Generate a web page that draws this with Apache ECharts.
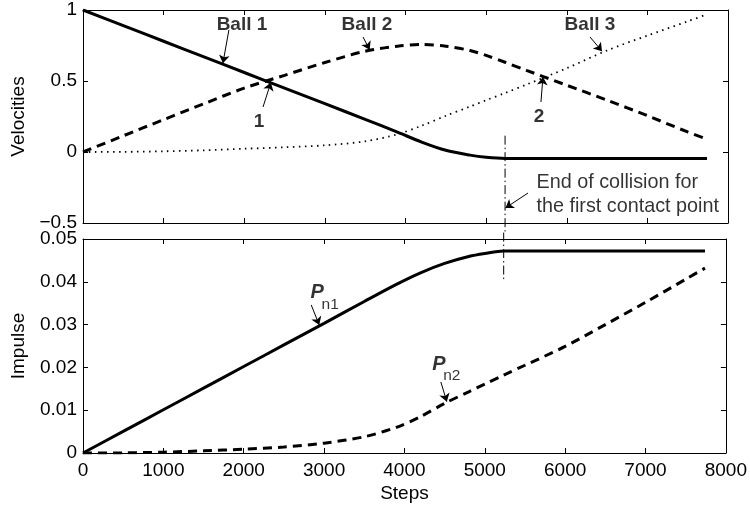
<!DOCTYPE html>
<html>
<head>
<meta charset="utf-8">
<script src="https://cdn.jsdelivr.net/npm/echarts@6/dist/echarts.min.js"></script>
<style>
  html, body { margin: 0; padding: 0; background: #fff; }
  #chart { width: 750px; height: 510px; }
</style>
</head>
<body>
<div id="chart"></div>
<script>
// Simulation steps shared by every curve
const steps = [0, 500, 1000, 1500, 2000, 2500, 3000, 3500, 3900, 4200, 4500, 4800, 5000, 5235, 5500, 6000, 6500, 7000, 7500, 7740];

// Ball velocities
const ball1 = [1, 0.89, 0.78, 0.67, 0.56, 0.45, 0.34, 0.23, 0.14, 0.07, 0.012, -0.022, -0.037, -0.045, -0.045, -0.045, -0.045, -0.045, -0.045, -0.045];
const ball2 = [0, 0.114, 0.228, 0.34, 0.45, 0.54, 0.63, 0.71, 0.745, 0.757, 0.745, 0.715, 0.68, 0.632, 0.575, 0.47, 0.365, 0.256, 0.141, 0.09];
const ball3 = [0, 0.001, 0.005, 0.012, 0.023, 0.033, 0.047, 0.075, 0.125, 0.185, 0.255, 0.32, 0.365, 0.415, 0.475, 0.59, 0.715, 0.82, 0.92, 0.97];

// Normal impulses at the two contact points
const pn1 = [0, 0.00505, 0.0101, 0.01515, 0.0202, 0.02525, 0.0303, 0.0354, 0.0394, 0.0421, 0.0443, 0.0459, 0.0466, 0.0472, 0.0472, 0.0472, 0.0472, 0.0472, 0.0472, 0.0472];
const pn2 = [0, 0.00003, 0.0002, 0.0005, 0.0009, 0.0014, 0.0023, 0.0038, 0.006, 0.0085, 0.0116, 0.0143, 0.0161, 0.0182, 0.0205, 0.0249, 0.030, 0.0352, 0.0406, 0.0432];

// Step at which the first contact ends
const endStep = 5235;

// Text notes (data coordinates) and their pointer arrows
const velNotes = [
  { text: 'Ball 1', at: [1972, 0.894] },
  { text: 'Ball 2', at: [3522, 0.894] },
  { text: 'Ball 3', at: [6288, 0.894] },
  { text: '1', at: [2183, 0.211] },
  { text: '2', at: [5656, 0.246] }
];
const velArrows = [
  { from: [1810, 0.86], to: [1735, 0.625] },
  { from: [3473, 0.81], to: [3555, 0.72] },
  { from: [6288, 0.81], to: [6437, 0.71] },
  { from: [2233, 0.317], to: [2330, 0.49] },
  { from: [5680, 0.352], to: [5705, 0.528] },
  { from: [5519, -0.289], to: [5240, -0.394] }
];
const collisionNote = { text: 'End of collision for\nthe first contact point', at: [5618, -0.303] };

const impNotes = [
  { main: 'P', sub: 'n1', at: [2915, 0.0374], subAt: [3076, 0.0346] },
  { main: 'P', sub: 'n2', at: [4428, 0.0206], subAt: [4589, 0.0180] }
];
const impArrows = [
  { from: [2840, 0.0346], to: [2940, 0.0299] },
  { from: [4453, 0.0166], to: [4527, 0.0120] }
];

const FONT = '"Liberation Sans", Arial, Helvetica, sans-serif';
const pairs = (ys) => steps.map((s, i) => [s, ys[i]]);

function xAx(grid, pos, labels) {
  return {
    type: 'value', gridIndex: grid, position: pos, min: 0, max: 8000, interval: 1000,
    axisLine: { show: true, onZero: false, lineStyle: { color: '#000', width: 1 } },
    axisTick: { show: true, inside: true, length: 5, lineStyle: { color: '#000' } },
    axisLabel: { show: labels, color: '#000', fontSize: 19, fontFamily: FONT, margin: 8, formatter: (v) => String(v) },
    splitLine: { show: false }
  };
}
function yAx(grid, pos, min, max, step, labels) {
  return {
    type: 'value', gridIndex: grid, position: pos, min: min, max: max, interval: step,
    axisLine: { show: true, onZero: false, lineStyle: { color: '#000', width: 1 } },
    axisTick: { show: true, inside: true, length: 5, lineStyle: { color: '#000' } },
    axisLabel: {
      show: labels, color: '#000', fontSize: 19, fontFamily: FONT, margin: 6,
      formatter: (v) => String(Math.round(v * 1000) / 1000).replace('-', '\u2212')
    },
    splitLine: { show: false }
  };
}

function curve(x, y, data, style, smooth) {
  return {
    type: 'line', xAxisIndex: x, yAxisIndex: y, data: data, showSymbol: false,
    symbol: 'none', silent: true, animation: false,
    smooth: smooth || false,
    lineStyle: Object.assign({ color: '#000', width: 3, cap: 'butt' }, style)
  };
}

function arrowLines(list) {
  return {
    silent: true, animation: false, symbol: ['none', 'arrow'], symbolSize: 8,
    label: { show: false },
    lineStyle: { color: '#000', width: 1, type: 'solid' },
    emphasis: { disabled: true },
    data: list.map(a => [{ coord: a.from }, { coord: a.to }])
  };
}

const velLabelData = velNotes.map(n => ({
  value: n.at,
  label: { show: true, position: 'inside', formatter: n.text, color: '#000', fontSize: 19, fontWeight: 'bold', fontFamily: FONT }
})).concat([{
  value: collisionNote.at,
  label: { show: true, position: 'right', distance: 0, align: 'left', formatter: collisionNote.text, color: '#000', fontSize: 19.8, lineHeight: 24, fontFamily: FONT }
}]);

const impLabelData = [];
impNotes.forEach(n => {
  impLabelData.push({ value: n.at, label: { show: true, position: 'inside', formatter: n.main, color: '#000', fontSize: 20, fontWeight: 'bold', fontStyle: 'italic', fontFamily: FONT } });
  impLabelData.push({ value: n.subAt, label: { show: true, position: 'inside', formatter: n.sub, color: '#000', fontSize: 15.5, fontFamily: FONT } });
});

const chart = echarts.init(document.getElementById('chart'), null, { renderer: 'canvas' });
chart.setOption({
  backgroundColor: '#fff',
  animation: false,
  textStyle: { fontFamily: FONT },
  grid: [
    { left: 83, top: 10, width: 645, height: 213 },
    { left: 83, top: 239, width: 645, height: 214 }
  ],
  xAxis: [
    xAx(0, 'bottom', false),
    xAx(0, 'top', false),
    Object.assign(xAx(1, 'bottom', true), {
      name: 'Steps', nameLocation: 'middle', nameGap: 31,
      nameTextStyle: { color: '#000', fontSize: 19, fontFamily: FONT }
    }),
    xAx(1, 'top', false)
  ],
  yAxis: [
    Object.assign(yAx(0, 'left', -0.5, 1, 0.5, true), {
      name: 'Velocities', nameLocation: 'middle', nameGap: 55, nameRotate: 90,
      nameTextStyle: { color: '#000', fontSize: 19, fontFamily: FONT }
    }),
    yAx(0, 'right', -0.5, 1, 0.5, false),
    Object.assign(yAx(1, 'left', 0, 0.05, 0.01, true), {
      name: 'Impulse', nameLocation: 'middle', nameGap: 55, nameRotate: 90,
      nameTextStyle: { color: '#000', fontSize: 19, fontFamily: FONT }
    }),
    yAx(1, 'right', 0, 0.05, 0.01, false)
  ],
  series: [
    curve(0, 0, pairs(ball3), { width: 1.8, type: [1.5, 4.5] }, 0.3),
    curve(0, 0, pairs(ball2), { type: [9, 6] }, 0.3),
    curve(0, 0, pairs(ball1), {}, 0.3),
    Object.assign(curve(0, 0, [[endStep, 0.115], [endStep, -0.56]], { width: 1, type: [9, 3, 1.5, 3] }), { clip: false }),
    curve(2, 2, pairs(pn2), { type: [9, 6] }, 0.3),
    curve(2, 2, pairs(pn1), {}, 0.3),
    Object.assign(curve(2, 2, [[endStep, 0.0515], [endStep, 0.0405]], { width: 1, type: [9, 3, 1.5, 3] }), { clip: false }),
    {
      type: 'scatter', xAxisIndex: 0, yAxisIndex: 0, symbolSize: 1, silent: true, animation: false,
      itemStyle: { color: 'rgba(0,0,0,0)' }, data: velLabelData, markLine: arrowLines(velArrows)
    },
    {
      type: 'scatter', xAxisIndex: 2, yAxisIndex: 2, symbolSize: 1, silent: true, animation: false,
      itemStyle: { color: 'rgba(0,0,0,0)' }, data: impLabelData, markLine: arrowLines(impArrows)
    }
  ]
});
</script>
</body>
</html>
